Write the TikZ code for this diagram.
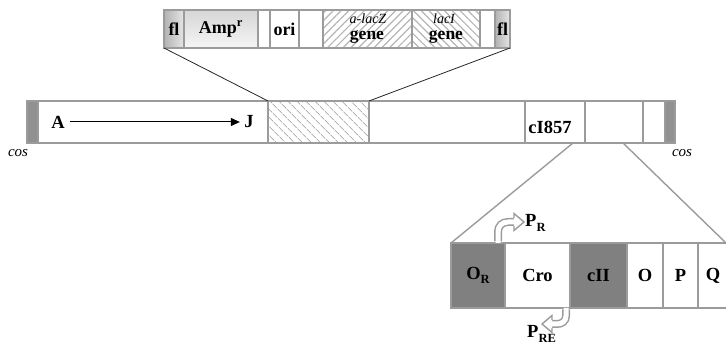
\documentclass[tikz,border=0pt]{standalone}
\usepackage{fontspec}
\setmainfont{Liberation Serif}
\usetikzlibrary{patterns.meta,arrows.meta}
\definecolor{bordergray}{RGB}{155,155,155}
\definecolor{darkfill}{RGB}{128,128,128}
\definecolor{capgray}{RGB}{145,145,145}
\definecolor{hatchgray}{RGB}{180,180,180}
\newcommand{\mysub}[1]{\raisebox{-0.5ex}{\fontsize{12.5}{12.5}\selectfont #1}}
\begin{document}
\begin{tikzpicture}[x=1pt,y=-1pt,
  seg/.style={draw=bordergray, line width=1.3pt, inner sep=0pt, outer sep=0pt, anchor=north west},
  bigtxt/.style={font=\fontsize{18.5}{18.5}\selectfont\bfseries},
  toptxt/.style={font=\fontsize{18}{18}\selectfont\bfseries},
  genetxt/.style={font=\fontsize{17.5}{17.5}\selectfont\bfseries, inner sep=0pt},
  geneit/.style={font=\fontsize{14}{14}\selectfont\itshape, inner sep=0pt},
  costxt/.style={font=\fontsize{15}{15}\selectfont\itshape},
  zoomline/.style={line width=0.8pt, black!85},
  funnel/.style={line width=1.4pt, bordergray},
  hatchR/.style={pattern={Lines[angle=-45,distance=6.5pt,line width=0.9pt]}, pattern color=hatchgray},
  hatchL/.style={pattern={Lines[angle=45,distance=5.5pt,line width=1.2pt]}, pattern color=hatchgray},
  hatchLR/.style={pattern={Lines[angle=-45,distance=5.5pt,line width=1.2pt]}, pattern color=hatchgray},
  prom/.style={line width=1.4pt, bordergray}
]
\useasboundingbox (0,0) rectangle (726,344);
\clip (0,0) rectangle (726,344);

% ---------- top insert box ----------
\node[seg, toptxt, minimum width=20pt, minimum height=38pt, left color=gray!60, right color=gray!20] (fla) at (164,10) {fl};
\node[seg, toptxt, minimum width=74pt, minimum height=38pt, top color=gray!32, bottom color=gray!8] (amp) at (184,10) {Amp\textsuperscript{r}};
\node[seg, minimum width=12pt, minimum height=38pt] (gapa) at (258,10) {};
\node[seg, toptxt, minimum width=29pt, minimum height=38pt] (ori) at (270,10) {ori};
\node[seg, minimum width=24pt, minimum height=38pt] (gapb) at (299,10) {};
\node[seg, hatchL, minimum width=89pt, minimum height=38pt] (lacz) at (323,10) {};
\node[seg, hatchLR, minimum width=68pt, minimum height=38pt] (laci) at (412,10) {};
\node[seg, minimum width=15pt, minimum height=38pt] (gapc) at (480,10) {};
\node[seg, toptxt, minimum width=15pt, minimum height=38pt, left color=gray!60, right color=gray!20] (flb) at (495,10) {fl};
\node[geneit] (laczi) at (368,18.5) {a-lacZ};
\node[genetxt] (laczg) at (367,36.5) {gene};
\node[geneit] (lacii) at (444,18.5) {lacI};
\node[genetxt] (lacig) at (446,36.5) {gene};

% ---------- main bar ----------
\node[seg, fill=capgray, minimum width=11pt, minimum height=42pt] (capl) at (27,101) {};
\node[seg, minimum width=230pt, minimum height=42pt] (aj) at (38,101) {};
\node[seg, hatchR, minimum width=101pt, minimum height=42pt] (hat) at (268,101) {};
\node[seg, minimum width=156pt, minimum height=42pt] (segc) at (369,101) {};
\node[seg, minimum width=60pt, minimum height=42pt] (ci) at (525,101) {};
\node[seg, minimum width=58pt, minimum height=42pt] (sege) at (585,101) {};
\node[seg, minimum width=22pt, minimum height=42pt] (segf) at (643,101) {};
\node[seg, fill=capgray, minimum width=10pt, minimum height=42pt] (capr) at (665,101) {};

\node[bigtxt] (A) at (58,122) {A};
\node[bigtxt] (J) at (249,122) {J};
\draw[line width=1pt, -{Triangle[length=9pt,width=8pt]}] (A.east) ++(2pt,0) -- ([xshift=-1pt]J.west);
\node[bigtxt] (cit) at (550,127) {cI857};
\node[costxt] (cosl) at (18,153) {cos};
\node[costxt] (cosr) at (682,153) {cos};

% ---------- connectors from insert ----------
\draw[zoomline] (fla.south west) -- (hat.north west);
\draw[zoomline] (flb.south east) -- (hat.north east);

% ---------- bottom box ----------
\coordinate (fa) at (573,143);
\coordinate (fb) at (623,143);
\coordinate (fc) at (726,243);
\node[seg, bigtxt, fill=darkfill, minimum width=54pt, minimum height=65pt] (or) at (451,243) {O\mysub{R}};
\node[seg, bigtxt, minimum width=65pt, minimum height=65pt] (cro) at (505,243) {Cro};
\node[seg, bigtxt, fill=darkfill, minimum width=57pt, minimum height=65pt] (cii) at (570,243) {cII};
\node[seg, bigtxt, minimum width=36pt, minimum height=65pt] (o) at (627,243) {O};
\node[seg, bigtxt, minimum width=35pt, minimum height=65pt] (p) at (663,243) {P};
\node[seg, bigtxt, minimum width=30pt, minimum height=65pt] (q) at (698,243) {Q};
\node[seg, minimum width=20pt, minimum height=65pt] (qq) at (728,243) {};
\draw[funnel] (fa) -- (or.north west);
\draw[funnel] (fb) -- (fc);

% ---------- promoters ----------
\draw[bordergray, line width=8pt] (498,241.5) -- (498,232) .. controls (498,226) and (502,222) .. (508,222) -- (514,222);
\draw[white, line width=5pt] (498,243) -- (498,232) .. controls (498,226) and (502,222) .. (508,222) -- (514.2,222);
\draw[prom, fill=white] (514,218) -- (514,213.5) -- (524,222) -- (514,230.5) -- (514,226);
\node[bigtxt, anchor=west, inner sep=0pt] (pr) at (525,223) {P\mysub{R}};

\draw[bordergray, line width=8pt] (566,309.5) -- (566,316) .. controls (566,321) and (562,324) .. (557,324) -- (552,324);
\draw[white, line width=5pt] (566,308) -- (566,316) .. controls (566,321) and (562,324) .. (557,324) -- (551.8,324);
\draw[prom, fill=white] (552,320) -- (552,315.5) -- (542,324) -- (552,332.5) -- (552,328);
\node[bigtxt, anchor=west, inner sep=0pt] (pre) at (527,334) {P\mysub{RE}};
\end{tikzpicture}
\end{document}
